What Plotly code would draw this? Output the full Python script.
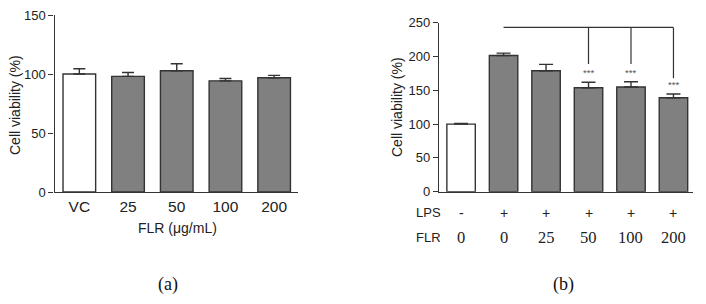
import plotly.graph_objects as go

# ---- Data: panel (a) ----
a_categories = ["VC", "25", "50", "100", "200"]
a_values = [100.0, 98.0, 102.7, 94.2, 96.8]
a_errors = [4.5, 3.3, 6.0, 2.0, 2.0]
a_colors = ["#ffffff", "#808080", "#808080", "#808080", "#808080"]
a_yticks = [0, 50, 100, 150]

# ---- Data: panel (b) ----
b_lps = ["-", "+", "+", "+", "+", "+"]
b_flr = ["0", "0", "25", "50", "100", "200"]
b_values = [100.0, 201.5, 179.0, 153.8, 154.9, 139.0]
b_errors = [1.0, 3.5, 9.4, 8.0, 7.8, 5.5]
b_colors = ["#ffffff", "#808080", "#808080", "#808080", "#808080", "#808080"]
b_sig = ["", "", "", "***", "***", "***"]
b_yticks = [0, 50, 100, 150, 200, 250]
bracket_from = 1
bracket_y = 243
bracket_targets = [3, 4, 5]
bracket_drop_to = [189, 189, 168]

# page body has an 8px margin, so the figure is drawn at (8, 8)
OFF = 8
W, H = 706 - 2 * OFF, 304 - 2 * OFF
AX = "#333333"
TXT = "#222222"
SANS = "Liberation Sans, Arial, sans-serif"
SERIF = "Liberation Serif, Times New Roman, serif"


def px(x):
    return (x - OFF) / W


def py(y):
    return (H - (y - OFF)) / H


fig = go.Figure()

fig.add_trace(go.Bar(
    x=a_categories, y=a_values, width=0.67,
    marker=dict(color=a_colors, line=dict(color=AX, width=1.4)),
    error_y=dict(type="data", symmetric=False, array=a_errors,
                 arrayminus=[0] * len(a_errors), color=AX, thickness=1.4, width=6),
    xaxis="x", yaxis="y", showlegend=False,
))

b_x = list(range(len(b_values)))
fig.add_trace(go.Bar(
    x=b_x, y=b_values, width=0.67,
    marker=dict(color=b_colors, line=dict(color=AX, width=1.4)),
    error_y=dict(type="data", symmetric=False, array=b_errors,
                 arrayminus=[0] * len(b_errors), color=AX, thickness=1.4, width=7),
    xaxis="x2", yaxis="y2", showlegend=False,
))

axis_common = dict(showline=True, linecolor=AX, linewidth=1.3, showgrid=False,
                   zeroline=False, mirror=False, automargin=False)
yaxis_common = dict(ticks="outside", ticklen=5, tickcolor=AX, tickwidth=1.2,
                    ticklabeloverflow="allow",
                    tickfont=dict(family=SANS, size=13, color=TXT))

fig.update_layout(
    width=W, height=H, margin=dict(l=0, r=0, t=0, b=0),
    paper_bgcolor="white", plot_bgcolor="white",
    xaxis=dict(domain=[px(54.5), px(298)], range=[-0.51, 4.49], type="category",
               ticks="", tickfont=dict(family=SANS, size=15.5, color=TXT),
               ticklabeloverflow="allow", **axis_common),
    yaxis=dict(domain=[py(192), py(15)], range=[0, 150], tickvals=a_yticks,
               **yaxis_common, **axis_common),
    xaxis2=dict(domain=[px(439), px(693)], range=[-0.52, 5.46],
                showticklabels=False, ticks="", anchor="y2", **axis_common),
    yaxis2=dict(domain=[py(191.7), py(22.7)], range=[0, 250], tickvals=b_yticks,
                anchor="x2", **yaxis_common, **axis_common),
)

shapes = [dict(type="line", xref="x2", yref="y2", x0=bracket_from, x1=bracket_targets[-1],
               y0=bracket_y, y1=bracket_y, line=dict(color=AX, width=1.2))]
for t, d in zip(bracket_targets, bracket_drop_to):
    shapes.append(dict(type="line", xref="x2", yref="y2", x0=t, x1=t, y0=bracket_y, y1=d,
                       line=dict(color=AX, width=1.2)))
fig.update_layout(shapes=shapes)

C = dict(showarrow=False, xanchor="center", yanchor="middle")
ann = []
# axis titles
ann.append(dict(x=px(15), y=py(105), xref="paper", yref="paper", text="Cell viability (%)",
                textangle=-90, font=dict(family=SANS, size=14, color=TXT), **C))
ann.append(dict(x=px(397), y=py(107), xref="paper", yref="paper", text="Cell viability (%)",
                textangle=-90, font=dict(family=SANS, size=14, color=TXT), **C))
ann.append(dict(x=px(177), y=py(228), xref="paper", yref="paper", text="FLR (\u03bcg/mL)",
                font=dict(family=SANS, size=14, color=TXT), **C))
# significance stars
for i, (v, e, s) in enumerate(zip(b_values, b_errors, b_sig)):
    if s:
        ann.append(dict(x=i, y=v + e, xref="x2", yref="y2", text=s, showarrow=False,
                        xanchor="center", yanchor="bottom", yshift=2,
                        font=dict(family=SANS, size=9.5, color="#555")))
# treatment rows
ann.append(dict(x=px(429), y=py(212.5), xref="paper", yref="paper", text="LPS",
                font=dict(family=SANS, size=13, color=TXT), **C))
ann.append(dict(x=px(429), y=py(237.5), xref="paper", yref="paper", text="FLR",
                font=dict(family=SANS, size=13, color=TXT), **C))
for i, (l, f) in enumerate(zip(b_lps, b_flr)):
    ann.append(dict(x=i, y=py(212.5), xref="x2", yref="paper", text=l,
                    font=dict(family=SANS, size=14, color=TXT), **C))
    ann.append(dict(x=i, y=py(237.5), xref="x2", yref="paper", text=f,
                    font=dict(family=SERIF, size=16.5, color=TXT), **C))
# panel labels
ann.append(dict(x=px(168), y=py(284.5), xref="paper", yref="paper", text="(a)", borderpad=0,
                font=dict(family=SERIF, size=18, color="#111"), **C))
ann.append(dict(x=px(563), y=py(284.5), xref="paper", yref="paper", text="(b)", borderpad=0,
                font=dict(family=SERIF, size=18, color="#111"), **C))
fig.update_layout(annotations=ann)

fig.write_html("out.html")
